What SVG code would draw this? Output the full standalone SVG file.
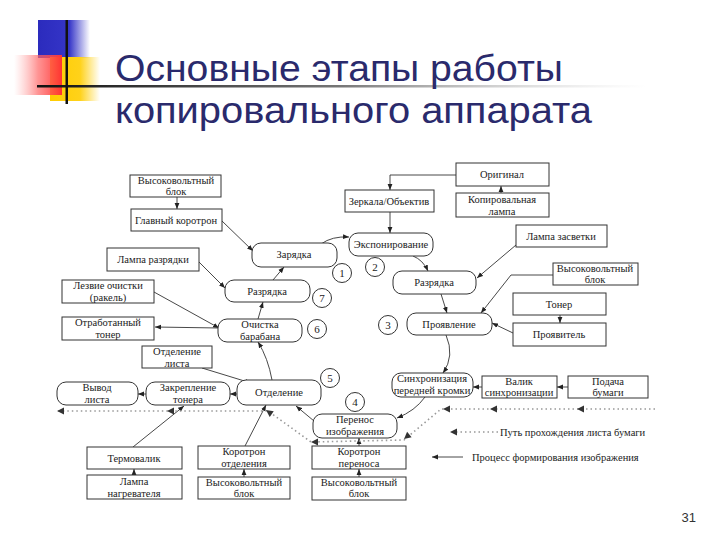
<svg xmlns="http://www.w3.org/2000/svg" xmlns:xlink="http://www.w3.org/1999/xlink" width="720" height="540" viewBox="0 0 720 540">
<defs>
<style>
.box{fill:#fff;stroke:#333;stroke-width:1}
.t{font-family:"Liberation Serif","DejaVu Serif",serif;font-size:10.5px;fill:#222;text-anchor:middle}
.c{fill:#fff;stroke:#333;stroke-width:1}
.cn{font-family:"Liberation Serif",serif;font-size:11px;fill:#222;text-anchor:middle}
.ln{fill:none;stroke:#333;stroke-width:0.9;marker-end:url(#ah)}
.dot{fill:none;stroke:#999;stroke-width:1.6;stroke-dasharray:1.5 3}
.title{font-family:"Liberation Sans","DejaVu Sans",sans-serif;font-size:37px;fill:#2a2a6c}
</style>
<marker id="ah" viewBox="0 0 10 10" refX="10" refY="5" markerWidth="6" markerHeight="6" markerUnits="userSpaceOnUse" orient="auto"><path d="M0,1 L10,5 L0,9 z" fill="#222"/></marker>
<path id="tri" d="M0,0 L7,-3.5 L7,3.5 z" fill="#333"/>
<linearGradient id="gBlue" x1="0" y1="0" x2="1" y2="0"><stop offset="0" stop-color="#2b2bbd"/><stop offset="0.6" stop-color="#3535c8"/><stop offset="1" stop-color="#3535c8" stop-opacity="0"/></linearGradient>
<linearGradient id="gYel" x1="0" y1="0" x2="1" y2="0"><stop offset="0" stop-color="#ffcc00"/><stop offset="0.6" stop-color="#ffd21a"/><stop offset="1" stop-color="#ffd21a" stop-opacity="0"/></linearGradient>
<linearGradient id="gRed" x1="1" y1="0" x2="0" y2="0"><stop offset="0" stop-color="#ff3333"/><stop offset="0.5" stop-color="#ff6666" stop-opacity="0.7"/><stop offset="1" stop-color="#ff9999" stop-opacity="0"/></linearGradient>
<linearGradient id="gLine" x1="0" y1="0" x2="1" y2="0"><stop offset="0" stop-color="#111"/><stop offset="0.5" stop-color="#777"/><stop offset="1" stop-color="#ccc" stop-opacity="0"/></linearGradient>
</defs>
<rect width="720" height="540" fill="#fff"/>
<g id="decoration">
<rect x="38" y="20" width="52" height="38" fill="url(#gBlue)"/>
<rect x="50" y="57" width="50" height="44" fill="url(#gYel)"/>
<rect x="14" y="55" width="48" height="40" fill="url(#gRed)"/>
<rect x="37" y="85" width="610" height="2.5" fill="url(#gLine)"/>
<rect x="65.5" y="20" width="2.5" height="84" fill="#111"/>
</g>
<g id="title">
<text class="title" x="115" y="81" textLength="448" lengthAdjust="spacingAndGlyphs">Основные этапы работы</text>
<text class="title" x="115" y="123" textLength="477" lengthAdjust="spacingAndGlyphs">копировального аппарата</text>
</g>
<g id="connectors">
<path class="ln" d="M177,197 L177,209"/>
<path class="ln" d="M222,221 L253,251"/>
<path class="ln" d="M199,262 L225,288"/>
<path class="ln" d="M154,292 L219,328"/>
<path class="ln" d="M219,328 L155,327"/>
<path class="ln" d="M202,368 L251,383"/>
<path class="ln" d="M237,394 L230,394"/>
<path class="ln" d="M146,394 L138,394"/>
<path class="ln" d="M133,447 L184,406"/>
<path class="ln" d="M134,475 L134,469"/>
<path class="ln" d="M245,446 L266,405"/>
<path class="ln" d="M244,477 L244,469"/>
<path class="ln" d="M359,446 L359,438"/>
<path class="ln" d="M359,477 L359,469"/>
<path class="ln" d="M314,421 L296,406"/>
<path class="ln" d="M425,397 Q415,411 397,418"/>
<path class="ln" d="M482,387 L473,387"/>
<path class="ln" d="M568,387 L557,387"/>
<path class="ln" d="M446,335 Q455,356 443,373"/>
<path class="ln" d="M441,294 L447,313"/>
<path class="ln" d="M413,256 Q423,260 428,271"/>
<path class="ln" d="M321,244 Q332,236 349,237"/>
<path class="ln" d="M273,280 L284,267"/>
<path class="ln" d="M258,319 L263,302"/>
<path class="ln" d="M272,380 Q268,358 258,342"/>
<path class="ln" d="M390,212 L390,233"/>
<path class="ln" d="M456,175 L390,175 L390,190"/>
<path class="ln" d="M501,193 L501,186"/>
<path class="ln" d="M516,245 L477,278"/>
<path class="ln" d="M553,275 L511,275 L481,313"/>
<path class="ln" d="M560,315 L560,323"/>
<path class="ln" d="M513,333 L492,323"/>
</g>
<g id="paper-path">
<path class="dot" d="M655,409 L441,409 L404,440 L311,442 L268,411 L58,411"/>
<use xlink:href="#tri" transform="translate(577,409)"/>
<use xlink:href="#tri" transform="translate(490,409)"/>
<use xlink:href="#tri" transform="translate(443,409)"/>
<use xlink:href="#tri" transform="translate(404,439) rotate(-40)"/>
<use xlink:href="#tri" transform="translate(311,442)"/>
<use xlink:href="#tri" transform="translate(266,410) rotate(35)"/>
<use xlink:href="#tri" transform="translate(167,411)"/>
<use xlink:href="#tri" transform="translate(57,411)"/>
</g>
<g id="legend">
<path class="dot" d="M498,432 L452,432"/>
<use xlink:href="#tri" transform="translate(450,432)"/>
<text class="t" x="500" y="436" style="text-anchor:start">Путь прохождения листа бумаги</text>
<path class="ln" d="M463,457 L432,457"/>
<text class="t" x="472" y="461" style="text-anchor:start">Процесс формирования изображения</text>
</g>
<g id="n-vv1"><rect class="box" x="130" y="175" width="91" height="22"/><text class="t" x="176" y="184">Высоковольтный</text><text class="t" x="176" y="195">блок</text></g>
<g id="n-glavny"><rect class="box" x="131" y="209" width="91" height="22"/><text class="t" x="176" y="224">Главный коротрон</text></g>
<g id="n-lampa-razr"><rect class="box" x="107" y="248" width="92" height="23"/><text class="t" x="153" y="263">Лампа разрядки</text></g>
<g id="n-lezvie"><rect class="box" x="62" y="280" width="92" height="23"/><text class="t" x="108" y="289">Лезвие очистки</text><text class="t" x="108" y="301">(ракель)</text></g>
<g id="n-otrab"><rect class="box" x="62" y="317" width="92" height="23"/><text class="t" x="108" y="326">Отработанный</text><text class="t" x="108" y="338">тонер</text></g>
<g id="n-otd-lista"><rect class="box" x="142" y="346" width="70" height="22"/><text class="t" x="177" y="355">Отделение</text><text class="t" x="177" y="367">листа</text></g>
<g id="n-termo"><rect class="box" x="87" y="447" width="95" height="22"/><text class="t" x="134" y="462">Термовалик</text></g>
<g id="n-lampa-nagr"><rect class="box" x="87" y="475" width="95" height="24"/><text class="t" x="134" y="485">Лампа</text><text class="t" x="134" y="497">нагревателя</text></g>
<g id="n-kor-otd"><rect class="box" x="198" y="446" width="92" height="23"/><text class="t" x="244" y="455">Коротрон</text><text class="t" x="244" y="467">отделения</text></g>
<g id="n-vv2"><rect class="box" x="198" y="477" width="92" height="22"/><text class="t" x="244" y="486">Высоковольтный</text><text class="t" x="244" y="497">блок</text></g>
<g id="n-kor-per"><rect class="box" x="312" y="446" width="94" height="23"/><text class="t" x="359" y="455">Коротрон</text><text class="t" x="359" y="467">переноса</text></g>
<g id="n-vv3"><rect class="box" x="312" y="477" width="94" height="23"/><text class="t" x="359" y="486">Высоковольтный</text><text class="t" x="359" y="497">блок</text></g>
<g id="n-zerkala"><rect class="box" x="345" y="190" width="89" height="22"/><text class="t" x="389" y="205">Зеркала/Объектив</text></g>
<g id="n-original"><rect class="box" x="456" y="163" width="93" height="23"/><text class="t" x="502" y="178">Оригинал</text></g>
<g id="n-kop-lampa"><rect class="box" x="456" y="193" width="93" height="24"/><text class="t" x="502" y="203">Копировальная</text><text class="t" x="502" y="215">лампа</text></g>
<g id="n-lampa-zasv"><rect class="box" x="516" y="225" width="91" height="22"/><text class="t" x="561" y="240">Лампа засветки</text></g>
<g id="n-vv4"><rect class="box" x="553" y="263" width="85" height="22"/><text class="t" x="595" y="272">Высоковольтный</text><text class="t" x="595" y="283">блок</text></g>
<g id="n-toner"><rect class="box" x="513" y="293" width="93" height="22"/><text class="t" x="559" y="308">Тонер</text></g>
<g id="n-proyavitel"><rect class="box" x="513" y="323" width="93" height="23"/><text class="t" x="559" y="338">Проявитель</text></g>
<g id="n-valik"><rect class="box" x="482" y="376" width="75" height="22"/><text class="t" x="519" y="385">Валик</text><text class="t" x="519" y="396">синхронизации</text></g>
<g id="n-podacha"><rect class="box" x="568" y="376" width="80" height="22"/><text class="t" x="608" y="385">Подача</text><text class="t" x="608" y="396">бумаги</text></g>
<g id="n-zaryadka"><rect class="box" x="252" y="243" width="85" height="24" rx="9"/><text class="t" x="294" y="258">Зарядка</text></g>
<g id="n-eksp"><rect class="box" x="349" y="233" width="84" height="23" rx="9"/><text class="t" x="391" y="248">Экспонирование</text></g>
<g id="n-razr-r"><rect class="box" x="393" y="271" width="83" height="23" rx="9"/><text class="t" x="434" y="286">Разрядка</text></g>
<g id="n-proyavl"><rect class="box" x="407" y="313" width="85" height="22" rx="9"/><text class="t" x="449" y="328">Проявление</text></g>
<g id="n-sinhr"><rect class="box" x="392" y="373" width="81" height="24" rx="9"/><text class="t" x="432" y="382">Синхронизация</text><text class="t" x="432" y="394">передней кромки</text></g>
<g id="n-perenos"><rect class="box" x="313" y="414" width="84" height="24" rx="9"/><text class="t" x="355" y="423">Перенос</text><text class="t" x="355" y="435">изображения</text></g>
<g id="n-otdelenie"><rect class="box" x="237" y="380" width="84" height="25" rx="9"/><text class="t" x="279" y="396">Отделение</text></g>
<g id="n-zakrepl"><rect class="box" x="146" y="382" width="84" height="23" rx="9"/><text class="t" x="188" y="391">Закрепление</text><text class="t" x="188" y="403">тонера</text></g>
<g id="n-vyvod"><rect class="box" x="57" y="382" width="81" height="23" rx="9"/><text class="t" x="97" y="391">Вывод</text><text class="t" x="97" y="403">листа</text></g>
<g id="n-ochistka"><rect class="box" x="218" y="319" width="84" height="23" rx="9"/><text class="t" x="260" y="328">Очистка</text><text class="t" x="260" y="340">барабана</text></g>
<g id="n-razr-l"><rect class="box" x="225" y="280" width="85" height="22" rx="9"/><text class="t" x="267" y="295">Разрядка</text></g>
<g id="steps">
<circle class="c" cx="342" cy="273" r="9.5"/><text class="cn" x="342" y="277">1</text>
<circle class="c" cx="375" cy="267" r="9.5"/><text class="cn" x="375" y="271">2</text>
<circle class="c" cx="388" cy="325" r="9.5"/><text class="cn" x="388" y="329">3</text>
<circle class="c" cx="355" cy="402" r="9.5"/><text class="cn" x="355" y="406">4</text>
<circle class="c" cx="330" cy="378" r="9.5"/><text class="cn" x="330" y="382">5</text>
<circle class="c" cx="317" cy="329" r="9.5"/><text class="cn" x="317" y="333">6</text>
<circle class="c" cx="322" cy="298" r="9.5"/><text class="cn" x="322" y="302">7</text>
</g>
<text x="696" y="522" style="font-family:'Liberation Sans',sans-serif;font-size:13px;fill:#333;text-anchor:end">31</text>
</svg>
